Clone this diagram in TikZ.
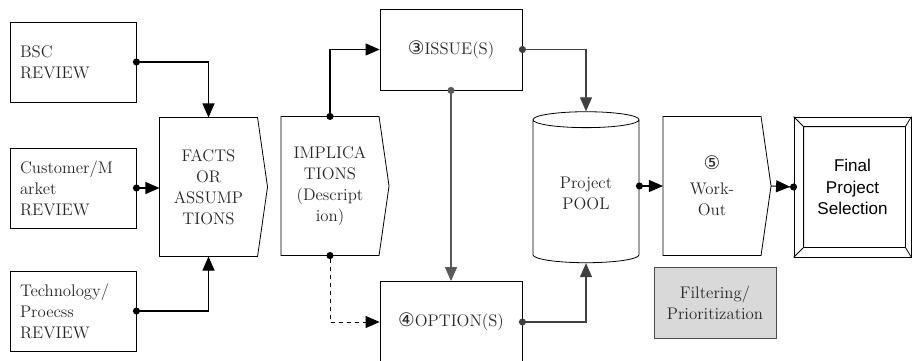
\documentclass[tikz,border=0pt]{standalone}
\usepackage{fontspec}
\newfontfamily\circfont{DejaVu Sans}
\newfontfamily\labelsans{Liberation Sans}
\usetikzlibrary{arrows.meta, shapes.geometric, calc}

\begin{document}
\begin{tikzpicture}[
            x = 0.75pt, y = -0.75pt, % pixel grid, y pointing down
            > = {Triangle[length=10.5pt, width=9pt]}, % arrow head style
            line width = 0.8pt,
            font = \fontsize{12.6}{15.75}\selectfont
        ]

        \tikzstyle{every node}=[text = black!85]
        \tikzstyle{review}=[
            draw, line width = 0.6pt, rectangle,
            text width = 79.5pt, inner xsep = 7.5pt, align = left,
            minimum height = 60pt
        ]
        \tikzstyle{pointbox}=[
            rectangle, align = center,
            minimum width = 72.75pt, minimum height = 103.5pt
        ]
        \tikzstyle{issuebox}=[
            draw, line width = 0.6pt, rectangle, align = center,
            minimum width = 106.5pt, minimum height = 60.75pt
        ]
        \tikzstyle{poolshape}=[
            draw, line width = 0.6pt, cylinder, shape border rotate = 90,
            aspect = 0.26, align = center,
            minimum width = 79.5pt, minimum height = 113.25pt
        ]
        \tikzstyle{framebox}=[
            draw, line width = 0.6pt, rectangle, align = center,
            minimum width = 87.75pt, minimum height = 105pt,
            font = \labelsans\fontsize{12.8}{16}\selectfont, text = black
        ]
        \tikzstyle{filterbox}=[
            draw = black!70, fill = black!15, line width = 0.6pt, align = center,
            minimum width = 91.5pt, minimum height = 53.25pt
        ]
        \tikzstyle{link}=[
            {Circle[length=5.25pt]}->, shorten < = -2.6pt
        ]
        \newcommand{\circnum}[1]{{\circfont\fontsize{14}{15.75}\selectfont #1}}

        \useasboundingbox (0,0) rectangle (912,360);
        \clip (0,0) rectangle (912,360);

        % review inputs
        \node[review] (bsc) at (73,62) {BSC\\REVIEW};
        \node[review] (cust) at (73,188) {Customer/M\\arket\\REVIEW};
        \node[review] (tech) at (73,311) {Technology/\\Proecss\\REVIEW};

        % steps
        \node[pointbox] (facts) at (208.5,187) {FACTS\\OR\\ASSUMP\\TIONS};
        \node[pointbox] (impl) at (330,186) {IMPLICA\\TIONS\\(Descript\\ion)};
        \node[issuebox] (issue) at (451,49.5) {\circnum{③}ISSUE(S)};
        \node[issuebox] (option) at (451,322) {\circnum{④}OPTION(S)};
        \node[poolshape] (pool) at (586,193) {Project\\POOL};
        \node[pointbox] (work) at (712,186) {\circnum{⑤}\\[3pt]Work-\\Out};
        \node[framebox] (final) at (852.5,187) {Final\\Project\\Selection};
        \node[filterbox] (filter) at (715,302.5) {Filtering/\\Prioritization};

        % pointed outlines
        \foreach \n in {facts, impl, work}
            \draw[line width = 0.6pt] (\n.north west) -- (\n.north east)
                -- ([xshift=7.5pt]\n.east) -- (\n.south east)
                -- (\n.south west) -- cycle;

        % bevelled frame
        \coordinate (in nw) at ($(final.north west)+(10,10)$);
        \coordinate (in se) at ($(final.south east)+(-6,-10)$);
        \draw[line width = 0.6pt] (in nw) rectangle (in se)
            (final.north west) -- (in nw)
            (final.south east) -- (in se)
            (final.north east) -- (in nw -| in se)
            (final.south west) -- (in se -| in nw);

        % connectors
        \draw[link] (bsc.east) -| (facts.north);
        \draw[link] (cust.east) -- (cust.east -| facts.west);
        \draw[link] (tech.east) -| (facts.south);
        \draw[link] (impl.north) |- (issue.west);
        \draw[link, dashed, line width = 0.6pt] (impl.south) |- (option.west);
        \draw[link, draw = black!65] (issue.south) -- (option.north);
        \draw[link, draw = black!75] (issue.east) -| (pool.north);
        \draw[link, draw = black!75] (option.east) -| (pool.south);
        \draw[link] (pool.east |- work.west) -- (work.west);
        \draw[-{Triangle[length=10.5pt, width=9pt] Circle[length=5.25pt]}, shorten > = -2.6pt]
            ([xshift=7.5pt]work.east) -- (final.west);
    \end{tikzpicture}
\end{document}
